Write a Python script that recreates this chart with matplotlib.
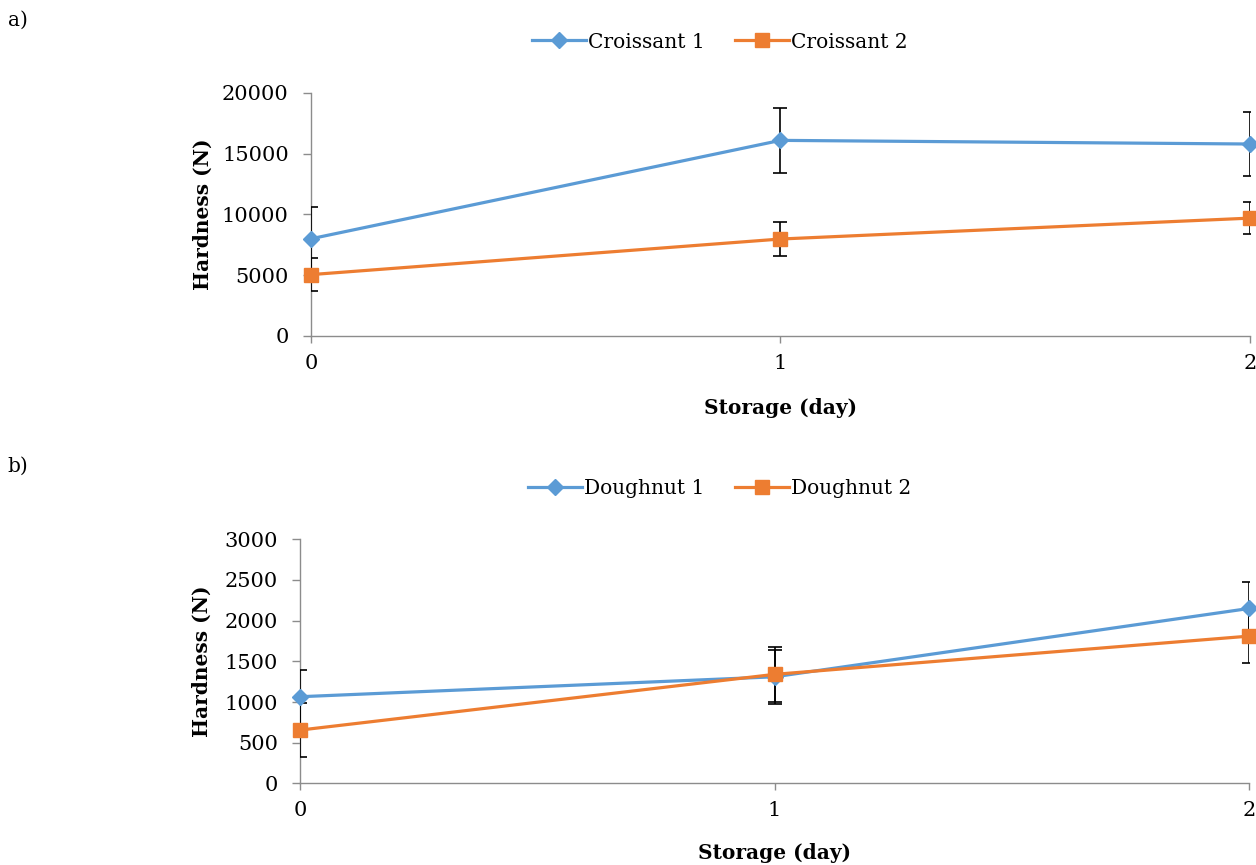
import matplotlib
matplotlib.use("Agg")
import matplotlib.pyplot as plt

days = [0, 1, 2]
day_labels = ["0", "1", "2"]

croissant1 = [8000, 16100, 15800]
croissant1_err = [2650, 2650, 2640]
croissant2 = [5050, 7980, 9700]
croissant2_err = [1350, 1360, 1345]

doughnut1 = [1065, 1310, 2150]
doughnut1_err = [330, 335, 327]
doughnut2 = [655, 1340, 1810]
doughnut2_err = [335, 335, 328]

blue = "#5B9BD5"
orange = "#ED7D31"
gray = "#8C8C8C"

plt.rcParams["font.family"] = ["DejaVu Serif"]

fig = plt.figure(figsize=(12.56, 8.65), dpi=100)

def make_panel(rect, s1, e1, n1, s2, e2, n2, ylim, yticks, legend_y, tag, tag_y, ylab_x, xlab_y):
    ax = fig.add_axes(rect)
    ax.errorbar(days, s1, yerr=e1, fmt="none", ecolor="black", elinewidth=1.2,
                capsize=5, capthick=1.2, zorder=3)
    ax.errorbar(days, s2, yerr=e2, fmt="none", ecolor="black", elinewidth=1.2,
                capsize=5, capthick=1.2, zorder=3)
    l1, = ax.plot(days, s1, color=blue, lw=2.3, marker="D", markersize=8, label=n1, zorder=4,
                  clip_on=False)
    l2, = ax.plot(days, s2, color=orange, lw=2.3, marker="s", markersize=10, label=n2, zorder=5,
                  clip_on=False)
    ax.set_xlim(0, 2)
    ax.set_ylim(*ylim)
    ax.set_yticks(yticks)
    ax.set_yticklabels([str(v) for v in yticks])
    ax.set_xticks(days)
    ax.set_xticklabels(day_labels)
    for side in ["top", "right"]:
        ax.spines[side].set_visible(False)
    for side in ["left", "bottom"]:
        ax.spines[side].set_color(gray)
        ax.spines[side].set_linewidth(1.0)
    ax.tick_params(axis="y", direction="out", length=6, width=1.0, color=gray, pad=10,
                   labelsize=15)
    ax.tick_params(axis="x", direction="out", length=5, width=1.0, color=gray, pad=8,
                   labelsize=15)
    ax.set_ylabel("Hardness (N)", fontsize=14.5, fontweight="bold")
    ax.yaxis.set_label_coords(ylab_x, 0.5)
    ax.set_xlabel("Storage (day)", fontsize=14.5, fontweight="bold")
    ax.xaxis.set_label_coords(0.5, xlab_y)
    fig.legend(handles=[l1, l2], loc="center", bbox_to_anchor=(0.573, legend_y), ncol=2,
               frameon=False, fontsize=14.5, handlelength=2.7, columnspacing=1.5,
               handletextpad=0.1)
    fig.text(0.006, tag_y, tag, fontsize=14.5, va="center", ha="left")
    return ax

make_panel([0.2476, 0.6116, 0.7476, 0.2809], croissant1, croissant1_err, "Croissant 1",
           croissant2, croissant2_err, "Croissant 2", (0, 20000),
           [0, 5000, 10000, 15000, 20000], 1 - 42 / 865, "a)", 1 - 20 / 865, -0.105, -0.255)
make_panel([0.2389, 0.0944, 0.7556, 0.2821], doughnut1, doughnut1_err, "Doughnut 1",
           doughnut2, doughnut2_err, "Doughnut 2", (0, 3000),
           [0, 500, 1000, 1500, 2000, 2500, 3000], 1 - 489 / 865, "b)", 1 - 466 / 865, -0.093, -0.246)

fig.savefig("out.png", dpi=100)
